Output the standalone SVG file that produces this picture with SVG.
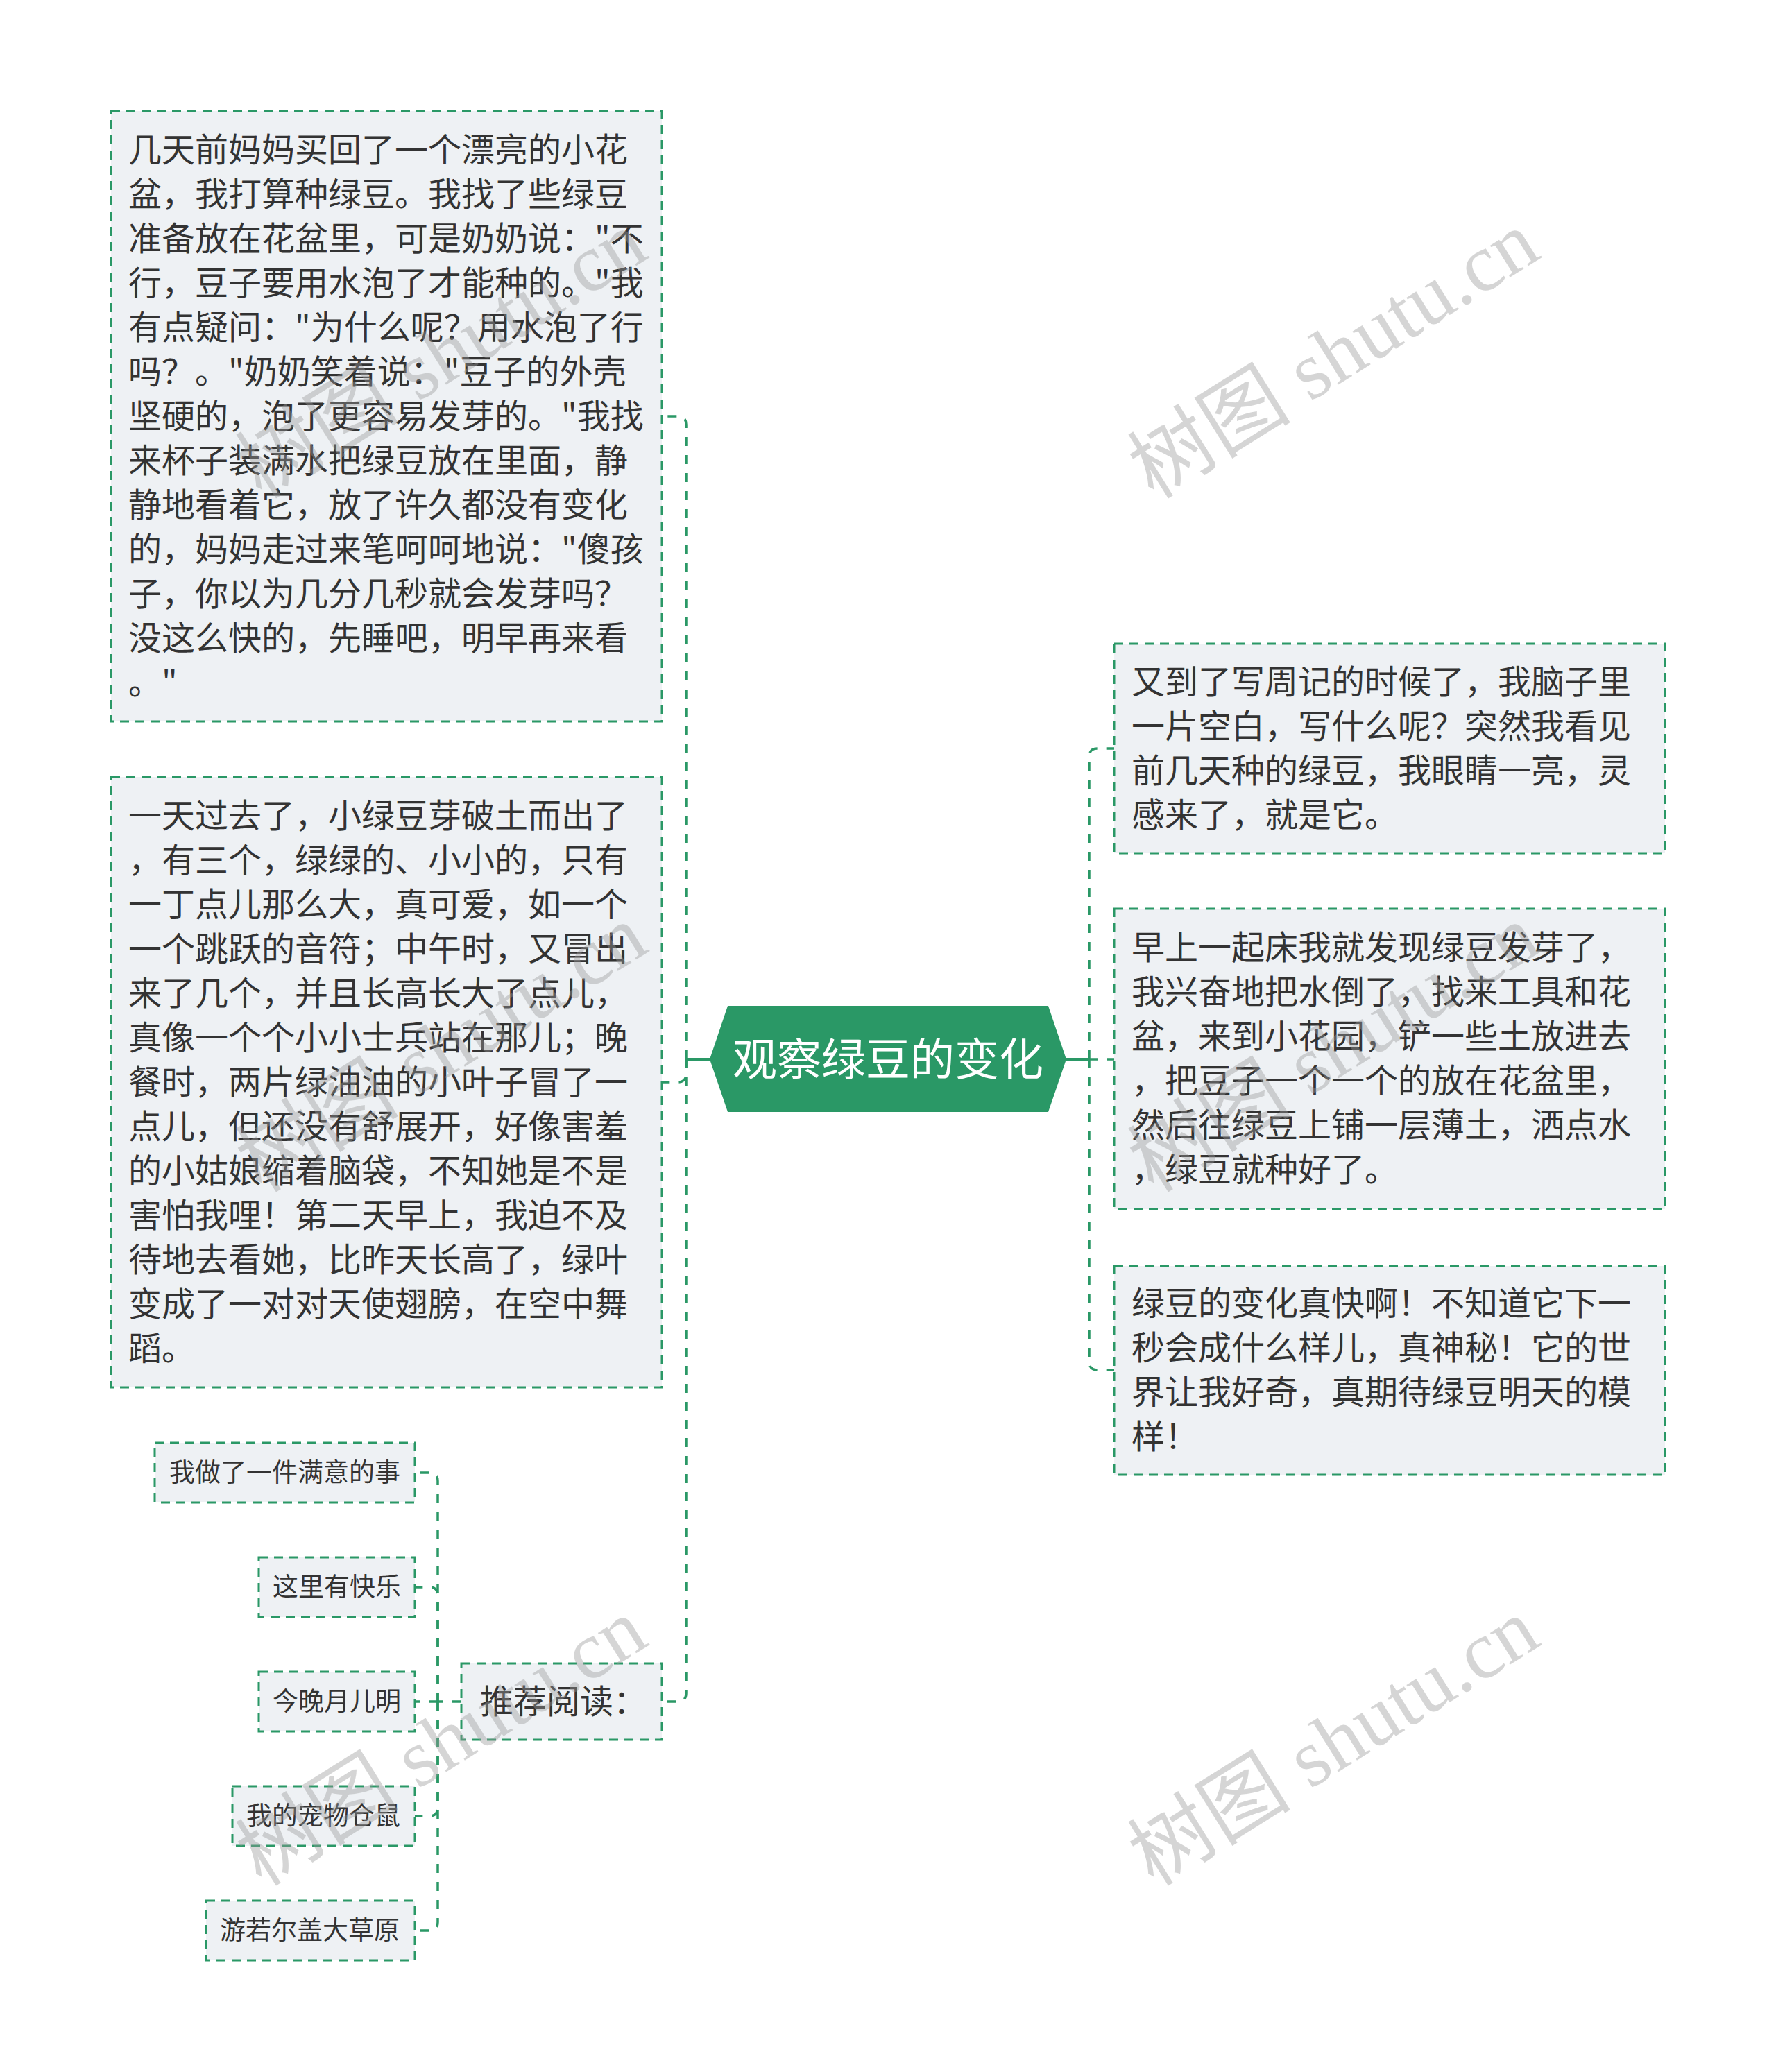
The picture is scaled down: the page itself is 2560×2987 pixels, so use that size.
<svg xmlns="http://www.w3.org/2000/svg" width="2560" height="2987" viewBox="0 0 2560 2987">
<style>
.box{fill:#eef1f4;stroke:#2a9866;stroke-width:3;stroke-dasharray:13 9;}
.t{font-family:"Noto Sans CJK SC","Liberation Sans",sans-serif;fill:#333333;}
.big{font-size:48px;}
.small{font-size:37px;}
.conn{fill:none;stroke:#2a9866;stroke-width:3.5;stroke-dasharray:13 13;}
.solid{fill:none;stroke:#2a9866;stroke-width:4;}
.wm{font-family:"Liberation Serif","Noto Sans CJK SC",serif;font-size:118px;fill:#999999;opacity:0.4;}
</style>
<rect width="2560" height="2987" fill="#ffffff"/>
<g id="connectors">
<path class="solid" d="M1023,1527 H989"/>
<path class="conn" d="M989,1527 V612 Q989,600 977,600 H954"/>
<path class="conn" d="M989,1527 V1548 Q989,1560 977,1560 H954"/>
<path class="conn" d="M989,1527 V2441 Q989,2453 977,2453 H954"/>
<path class="solid" d="M1537,1527 H1570"/>
<path class="conn" d="M1570,1527 V1091 Q1570,1079 1582,1079 H1606"/>
<path class="conn" d="M1570,1527 H1606"/>
<path class="conn" d="M1570,1527 V1963 Q1570,1975 1582,1975 H1606"/>
<path class="conn" d="M665,2453 H631"/>
<path class="conn" d="M631,2453 V2135 Q631,2123 619,2123 H598"/>
<path class="conn" d="M631,2453 V2300 Q631,2288 619,2288 H598"/>
<path class="conn" d="M631,2453 H598"/>
<path class="conn" d="M631,2453 V2606 Q631,2618 619,2618 H598"/>
<path class="conn" d="M631,2453 V2771 Q631,2783 619,2783 H598"/>
</g>
<g id="center">
<polygon points="1023,1527 1049,1450 1511,1450 1537,1527 1511,1603 1049,1603" fill="#2a9866"/>
<text x="1280" y="1550" text-anchor="middle" font-family="Noto Sans CJK SC, Liberation Sans, sans-serif" font-size="64" fill="#ffffff">观察绿豆的变化</text>
</g>
<g id="node-l1">
<rect class="box" x="160" y="160" width="794" height="880"/>
<text class="t big" x="185" y="233">
<tspan x="185" dy="0">几天前妈妈买回了一个漂亮的小花</tspan>
<tspan x="185" dy="64">盆，我打算种绿豆。我找了些绿豆</tspan>
<tspan x="185" dy="64">准备放在花盆里，可是奶奶说："不</tspan>
<tspan x="185" dy="64">行，豆子要用水泡了才能种的。"我</tspan>
<tspan x="185" dy="64">有点疑问："为什么呢？用水泡了行</tspan>
<tspan x="185" dy="64">吗？。"奶奶笑着说："豆子的外壳</tspan>
<tspan x="185" dy="64">坚硬的，泡了更容易发芽的。"我找</tspan>
<tspan x="185" dy="64">来杯子装满水把绿豆放在里面，静</tspan>
<tspan x="185" dy="64">静地看着它，放了许久都没有变化</tspan>
<tspan x="185" dy="64">的，妈妈走过来笔呵呵地说："傻孩</tspan>
<tspan x="185" dy="64">子，你以为几分几秒就会发芽吗？</tspan>
<tspan x="185" dy="64">没这么快的，先睡吧，明早再来看</tspan>
<tspan x="185" dy="64">。"</tspan>
</text>
</g>
<g id="node-l2">
<rect class="box" x="160" y="1120" width="794" height="880"/>
<text class="t big" x="185" y="1193">
<tspan x="185" dy="0">一天过去了，小绿豆芽破土而出了</tspan>
<tspan x="185" dy="64">，有三个，绿绿的、小小的，只有</tspan>
<tspan x="185" dy="64">一丁点儿那么大，真可爱，如一个</tspan>
<tspan x="185" dy="64">一个跳跃的音符；中午时，又冒出</tspan>
<tspan x="185" dy="64">来了几个，并且长高长大了点儿，</tspan>
<tspan x="185" dy="64">真像一个个小小士兵站在那儿；晚</tspan>
<tspan x="185" dy="64">餐时，两片绿油油的小叶子冒了一</tspan>
<tspan x="185" dy="64">点儿，但还没有舒展开，好像害羞</tspan>
<tspan x="185" dy="64">的小姑娘缩着脑袋，不知她是不是</tspan>
<tspan x="185" dy="64">害怕我哩！第二天早上，我迫不及</tspan>
<tspan x="185" dy="64">待地去看她，比昨天长高了，绿叶</tspan>
<tspan x="185" dy="64">变成了一对对天使翅膀，在空中舞</tspan>
<tspan x="185" dy="64">蹈。</tspan>
</text>
</g>
<g id="node-tuijian">
<rect class="box" x="665" y="2398" width="289" height="110"/>
<text class="t big" x="692" y="2470">推荐阅读：</text>
</g>
<g id="node-s1">
<rect class="box" x="223" y="2080" width="375" height="86"/>
<text class="t small" x="244" y="2136">我做了一件满意的事</text>
</g>
<g id="node-s2">
<rect class="box" x="373" y="2245" width="225" height="86"/>
<text class="t small" x="393" y="2301">这里有快乐</text>
</g>
<g id="node-s3">
<rect class="box" x="373" y="2410" width="225" height="86"/>
<text class="t small" x="393" y="2466">今晚月儿明</text>
</g>
<g id="node-s4">
<rect class="box" x="335" y="2575" width="263" height="86"/>
<text class="t small" x="355" y="2631">我的宠物仓鼠</text>
</g>
<g id="node-s5">
<rect class="box" x="297" y="2740" width="301" height="86"/>
<text class="t small" x="317" y="2796">游若尔盖大草原</text>
</g>
<g id="node-r1">
<rect class="box" x="1606" y="928" width="794" height="302"/>
<text class="t big" x="1631" y="1000">
<tspan x="1631" dy="0">又到了写周记的时候了，我脑子里</tspan>
<tspan x="1631" dy="64">一片空白，写什么呢？突然我看见</tspan>
<tspan x="1631" dy="64">前几天种的绿豆，我眼睛一亮，灵</tspan>
<tspan x="1631" dy="64">感来了，就是它。</tspan>
</text>
</g>
<g id="node-r2">
<rect class="box" x="1606" y="1310" width="794" height="433"/>
<text class="t big" x="1631" y="1383">
<tspan x="1631" dy="0">早上一起床我就发现绿豆发芽了，</tspan>
<tspan x="1631" dy="64">我兴奋地把水倒了，找来工具和花</tspan>
<tspan x="1631" dy="64">盆，来到小花园，铲一些土放进去</tspan>
<tspan x="1631" dy="64">，把豆子一个一个的放在花盆里，</tspan>
<tspan x="1631" dy="64">然后往绿豆上铺一层薄土，洒点水</tspan>
<tspan x="1631" dy="64">，绿豆就种好了。</tspan>
</text>
</g>
<g id="node-r3">
<rect class="box" x="1606" y="1825" width="794" height="301"/>
<text class="t big" x="1631" y="1896">
<tspan x="1631" dy="0">绿豆的变化真快啊！不知道它下一</tspan>
<tspan x="1631" dy="64">秒会成什么样儿，真神秘！它的世</tspan>
<tspan x="1631" dy="64">界让我好奇，真期待绿豆明天的模</tspan>
<tspan x="1631" dy="64">样！</tspan>
</text>
</g>
<g id="watermarks">
<text class="wm" text-anchor="middle" transform="translate(1924,514) rotate(-32)" y="37">树图 shutu.cn</text>
<text class="wm" text-anchor="middle" transform="translate(1924,2514) rotate(-32)" y="37">树图 shutu.cn</text>
<text class="wm" text-anchor="middle" transform="translate(638,514) rotate(-32)" y="37">树图 shutu.cn</text>
<text class="wm" text-anchor="middle" transform="translate(638,1514) rotate(-32)" y="37">树图 shutu.cn</text>
<text class="wm" text-anchor="middle" transform="translate(1924,1514) rotate(-32)" y="37">树图 shutu.cn</text>
<text class="wm" text-anchor="middle" transform="translate(638,2514) rotate(-32)" y="37">树图 shutu.cn</text>
</g>
</svg>
